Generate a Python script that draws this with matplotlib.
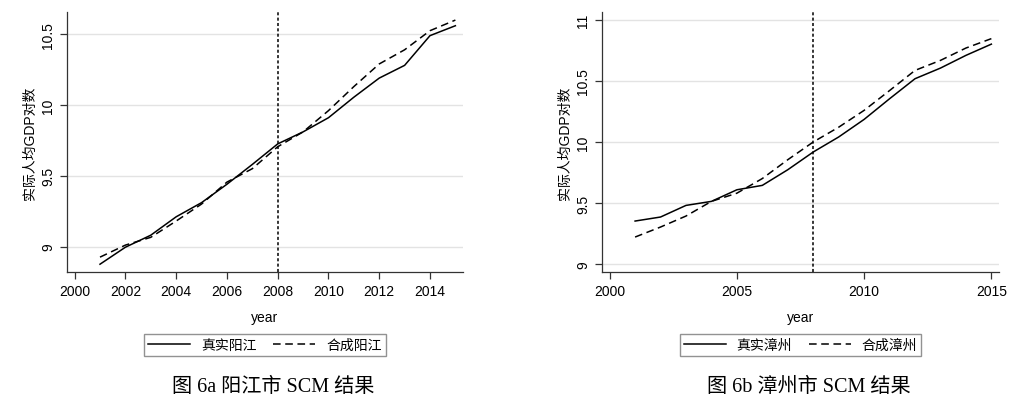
import numpy as np
import matplotlib.pyplot as plt

years = np.arange(2001, 2016)

# 阳江 (left panel)
yj_real = [8.875, 8.995, 9.08, 9.21, 9.31, 9.44, 9.58, 9.725, 9.81, 9.91,
           10.055, 10.19, 10.28, 10.49, 10.56]
yj_synth = [8.925, 9.01, 9.065, 9.18, 9.30, 9.455, 9.55, 9.705, 9.81, 9.96,
            10.13, 10.29, 10.39, 10.525, 10.60]

# 漳州 (right panel)
zz_real = [9.352, 9.385, 9.48, 9.513, 9.608, 9.644, 9.772, 9.917, 10.04, 10.184,
           10.353, 10.517, 10.604, 10.708, 10.80]
zz_synth = [9.221, 9.303, 9.393, 9.513, 9.58, 9.70, 9.854, 9.999, 10.12, 10.258,
            10.42, 10.585, 10.667, 10.768, 10.845]

treat_year = 2008
sans = ['Liberation Sans', 'Noto Sans CJK SC']
serif = ['Liberation Serif', 'Noto Sans CJK SC']

fig = plt.figure(figsize=(10.18, 4.02), dpi=100)
ax1 = fig.add_axes([67/1018, 1-273/402, 396/1018, 260/402])
ax2 = fig.add_axes([602/1018, 1-273/402, 397/1018, 260/402])


def panel(ax, real, synth, city, xticks, yticks, ylim, caption):
    # light horizontal grid at the y ticks
    for yv in yticks:
        ax.axhline(yv, color='#e3e3e3', lw=1.0, zorder=0)
    ax.plot(years, real, color='black', lw=1.1, label='真实' + city)
    ax.plot(years, synth, color='black', lw=1.1, linestyle=(0, (5, 3)), label='合成' + city)
    ax.axvline(treat_year, color='black', lw=1.1, linestyle=(0, (2, 1.5)))
    ax.set_xlim(1999.7, 2015.3)
    ax.set_ylim(*ylim)
    ax.set_xticks(xticks)
    ax.set_yticks(yticks)
    ax.set_yticklabels([('%g' % v) for v in yticks], rotation=90, va='center')
    for s in ['top', 'right']:
        ax.spines[s].set_visible(False)
    for s in ['left', 'bottom']:
        ax.spines[s].set_color('#333333')
        ax.spines[s].set_linewidth(0.9)
    ax.tick_params(direction='out', length=5, width=0.9, labelsize=10, color='#333333')
    for t in ax.get_xticklabels() + ax.get_yticklabels():
        t.set_family(sans)
    ax.set_xlabel('year', fontsize=10, family=sans, labelpad=9)
    ax.set_ylabel('实际人均GDP对数', fontsize=10, family=sans, labelpad=3)
    leg = ax.legend(loc='upper center', bbox_to_anchor=(0.5, -0.21), ncol=2,
                    frameon=True, fancybox=False, edgecolor='#777777',
                    prop={'family': sans, 'size': 10}, handlelength=3.0,
                    columnspacing=1.2, handletextpad=0.8, borderpad=0.3)
    leg.get_frame().set_linewidth(1.0)
    ax.text(0.52, -0.44, caption, transform=ax.transAxes, ha='center', va='center',
            fontsize=14.5, family=serif)


panel(ax1, yj_real, yj_synth, '阳江', np.arange(2000, 2016, 2), [9, 9.5, 10, 10.5],
      (8.82, 10.657), '图 6a 阳江市 SCM 结果')
panel(ax2, zz_real, zz_synth, '漳州', [2000, 2005, 2010, 2015], [9, 9.5, 10, 10.5, 11],
      (8.935, 11.063), '图 6b 漳州市 SCM 结果')

fig.savefig('out.png', dpi=100)
